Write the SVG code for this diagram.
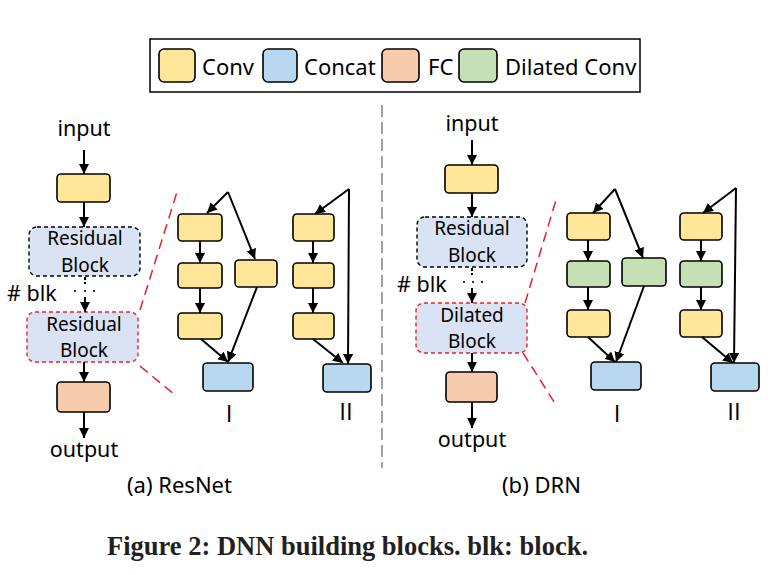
<svg xmlns="http://www.w3.org/2000/svg" width="774" height="575" viewBox="0 0 774 575">
<defs>
<marker id="ah" markerUnits="userSpaceOnUse" markerWidth="12" markerHeight="12" refX="10" refY="5" orient="auto">
<path d="M0,0 L10,5 L0,10 Z" fill="#000"/>
</marker>
<style>
.t{font-family:"Noto Sans","Open Sans",sans-serif;fill:#000}
.lg{font-size:22px}
.lb{font-size:21.5px;text-anchor:middle}
.bl{font-size:19px;text-anchor:middle}
.cap{font-size:22px}
.rn{font-family:"Open Sans","Liberation Sans",sans-serif;font-size:24px;text-anchor:middle}
.box{stroke:#000;stroke-width:1.6}
.conv{fill:#FFE699}
.concat{fill:#B7D8EE}
.fc{fill:#F8CBAD}
.dil{fill:#C5E0B4}
.blk{fill:#DAE3F3;stroke-width:1.4;stroke-dasharray:4,3}
.e{stroke:#000;stroke-width:2;fill:none;marker-end:url(#ah)}
.ln{stroke:#000;stroke-width:2;fill:none}
.red{stroke:#E8202A;stroke-width:1.5;stroke-dasharray:10,6;fill:none}
</style>
</defs>
<rect width="774" height="575" fill="#fff"/>

<g id="legend">
<rect x="150" y="39" width="490" height="53" fill="#fff" stroke="#000" stroke-width="1.5"/>
<rect class="box conv" x="159" y="49" width="36" height="33" rx="5"/>
<text class="t lg" x="202" y="75">Conv</text>
<rect class="box concat" x="263" y="49" width="34" height="33" rx="5"/>
<text class="t lg" x="304" y="75">Concat</text>
<rect class="box fc" x="382" y="49" width="37" height="33" rx="5"/>
<text class="t lg" x="428" y="75">FC</text>
<rect class="box dil" x="459" y="49" width="38" height="33" rx="5"/>
<text class="t lg" x="505" y="75">Dilated Conv</text>
</g>

<g id="separator">
<line x1="382" y1="105" x2="382" y2="468" stroke="#A0A0A0" stroke-width="2" stroke-dasharray="12,5"/>
</g>

<!-- ResNet panel -->
<g id="a-input"><text class="t lb" x="84" y="136">input</text></g>
<g id="a-conv"><rect class="box conv" x="57" y="174" width="53" height="28" rx="4"/></g>
<g id="a-res1"><rect class="box blk" x="29" y="227" width="111" height="49" rx="8"/>
<text class="t bl" x="85" y="245">Residual</text><text class="t bl" x="85" y="272">Block</text></g>
<g id="a-blk"><text class="t lb" x="7" y="301" style="text-anchor:start">#&#160;blk</text>
<circle cx="75" cy="291" r="1.1"/><circle cx="85" cy="291" r="1.1"/><circle cx="94" cy="291" r="1.1"/></g>
<g id="a-res2"><rect class="box blk" x="27" y="312" width="111" height="50" rx="8" style="stroke:#E8202A"/>
<text class="t bl" x="84" y="331">Residual</text><text class="t bl" x="84" y="357">Block</text></g>
<g id="a-fc"><rect class="box fc" x="57" y="382" width="53" height="30" rx="4"/></g>
<g id="a-output"><text class="t lb" x="84" y="457">output</text></g>

<g id="a1-c1"><rect class="box conv" x="178" y="214" width="44" height="27" rx="4"/></g>
<g id="a1-c2"><rect class="box conv" x="178" y="263" width="44" height="25" rx="4"/></g>
<g id="a1-c3"><rect class="box conv" x="178" y="313" width="44" height="26" rx="4"/></g>
<g id="a1-side"><rect class="box conv" x="235" y="260" width="42" height="27" rx="4"/></g>
<g id="a1-cat"><rect class="box concat" x="203" y="363" width="50" height="28" rx="4"/></g>
<g id="a1-label"><text class="t rn" x="229" y="422">I</text></g>

<g id="a2-c1"><rect class="box conv" x="293" y="214" width="41" height="27" rx="4"/></g>
<g id="a2-c2"><rect class="box conv" x="293" y="263" width="41" height="25" rx="4"/></g>
<g id="a2-c3"><rect class="box conv" x="293" y="313" width="41" height="26" rx="4"/></g>
<g id="a2-cat"><rect class="box concat" x="323" y="364" width="48" height="28" rx="4"/></g>
<g id="a2-label"><text class="t rn" x="346" y="420">II</text></g>

<g id="a-caption"><text class="t cap" x="127" y="493">(a) ResNet</text></g>

<!-- DRN panel -->
<g id="b-input"><text class="t lb" x="472" y="131">input</text></g>
<g id="b-conv"><rect class="box conv" x="445" y="165" width="53" height="28" rx="4"/></g>
<g id="b-res"><rect class="box blk" x="417" y="217" width="110" height="50" rx="8"/>
<text class="t bl" x="472" y="235">Residual</text><text class="t bl" x="472" y="262">Block</text></g>
<g id="b-blk"><text class="t lb" x="397" y="292" style="text-anchor:start">#&#160;blk</text>
<circle cx="464" cy="282" r="1.1"/><circle cx="473" cy="282" r="1.1"/><circle cx="482" cy="282" r="1.1"/></g>
<g id="b-dil"><rect class="box blk" x="416" y="303" width="111" height="50" rx="8" style="stroke:#E8202A"/>
<text class="t bl" x="472" y="322">Dilated</text><text class="t bl" x="472" y="348">Block</text></g>
<g id="b-fc"><rect class="box fc" x="446" y="372" width="51" height="30" rx="4"/></g>
<g id="b-output"><text class="t lb" x="472" y="447">output</text></g>

<g id="b1-c1"><rect class="box conv" x="567" y="213" width="43" height="27" rx="4"/></g>
<g id="b1-d2"><rect class="box dil" x="567" y="261" width="43" height="26" rx="4"/></g>
<g id="b1-c3"><rect class="box conv" x="567" y="310" width="43" height="27" rx="4"/></g>
<g id="b1-side"><rect class="box dil" x="622" y="258" width="44" height="28" rx="4"/></g>
<g id="b1-cat"><rect class="box concat" x="591" y="362" width="50" height="28" rx="4"/></g>
<g id="b1-label"><text class="t rn" x="617" y="422">I</text></g>

<g id="b2-c1"><rect class="box conv" x="680" y="213" width="42" height="27" rx="4"/></g>
<g id="b2-d2"><rect class="box dil" x="680" y="261" width="42" height="26" rx="4"/></g>
<g id="b2-c3"><rect class="box conv" x="680" y="310" width="42" height="27" rx="4"/></g>
<g id="b2-cat"><rect class="box concat" x="711" y="363" width="48" height="28" rx="4"/></g>
<g id="b2-label"><text class="t rn" x="734" y="420">II</text></g>

<g id="b-caption"><text class="t cap" x="502" y="493">(b) DRN</text></g>

<g id="connectors">
<line class="e" x1="84" y1="150" x2="84" y2="174"/>
<line class="e" x1="84" y1="202" x2="84" y2="227"/>
<line class="ln" x1="85" y1="277" x2="85" y2="284" stroke-dasharray="3,2"/>
<line class="e" x1="85" y1="297" x2="85" y2="312"/>
<line class="e" x1="84" y1="362" x2="84" y2="382"/>
<line class="e" x1="84" y1="412" x2="84" y2="438"/>
<line class="red" x1="140" y1="310" x2="177" y2="192"/>
<line class="red" x1="140" y1="366" x2="175" y2="395"/>

<line class="e" x1="228" y1="192" x2="207" y2="213"/>
<line class="e" x1="228" y1="192" x2="255" y2="259"/>
<line class="e" x1="200" y1="241" x2="200" y2="263"/>
<line class="e" x1="200" y1="288" x2="200" y2="313"/>
<line class="e" x1="201" y1="339" x2="228" y2="362"/>
<line class="e" x1="257" y1="287" x2="228" y2="362"/>

<line class="e" x1="349" y1="189" x2="315" y2="214"/>
<line class="e" x1="349" y1="189" x2="348" y2="364"/>
<line class="e" x1="313" y1="241" x2="313" y2="263"/>
<line class="e" x1="313" y1="288" x2="313" y2="313"/>
<line class="e" x1="313" y1="339" x2="343" y2="363"/>

<line class="e" x1="472" y1="140" x2="472" y2="165"/>
<line class="e" x1="472" y1="193" x2="472" y2="217"/>
<line class="ln" x1="472" y1="268" x2="472" y2="275" stroke-dasharray="3,2"/>
<line class="e" x1="472" y1="288" x2="472" y2="303"/>
<line class="e" x1="472" y1="353" x2="472" y2="372"/>
<line class="e" x1="472" y1="402" x2="472" y2="428"/>
<line class="red" x1="525" y1="303" x2="556" y2="200"/>
<line class="red" x1="523" y1="353" x2="556" y2="405"/>

<line class="e" x1="615" y1="189" x2="593" y2="213"/>
<line class="e" x1="615" y1="189" x2="643" y2="258"/>
<line class="e" x1="588" y1="240" x2="588" y2="261"/>
<line class="e" x1="588" y1="287" x2="588" y2="310"/>
<line class="e" x1="588" y1="337" x2="615" y2="362"/>
<line class="e" x1="644" y1="286" x2="616" y2="362"/>

<line class="e" x1="736" y1="188" x2="703" y2="213"/>
<line class="e" x1="736" y1="188" x2="734" y2="363"/>
<line class="e" x1="701" y1="240" x2="701" y2="261"/>
<line class="e" x1="701" y1="287" x2="701" y2="310"/>
<line class="e" x1="702" y1="337" x2="733" y2="363"/>
</g>

<g id="figure-caption">
<text x="107" y="555" style="font-family:'Liberation Serif','Times New Roman',serif;font-weight:bold;font-size:26.5px;fill:#231F20">Figure 2: DNN building blocks. blk: block.</text>
</g>
</svg>
